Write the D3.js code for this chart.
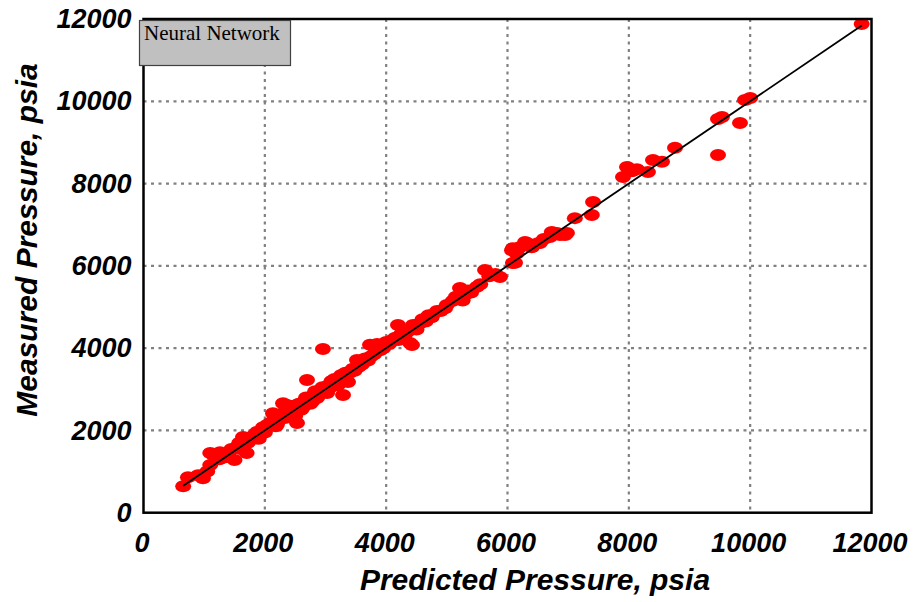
<!DOCTYPE html>
<html>
<head>
<meta charset="utf-8">
<script src="https://cdn.jsdelivr.net/npm/d3@7"></script>
<style>
  body { margin: 0; background: #fff; }
</style>
</head>
<body>
<div id="chart-area"></div>
<script>
// predicted vs measured pressure (psia)
const predicted = [654, 733, 900, 980, 1050, 1100, 1150, 1100, 1260, 1250, 1350, 1400, 1500, 1540, 1600, 1640, 1700, 1720, 1800, 1870,
  1900, 1970, 2000, 2036, 2085, 2135, 2200, 2250, 2300, 2332, 2365, 2400, 2464, 2500, 2530, 2530, 2600, 2650, 2695, 2695,
  2750, 2800, 2860, 2900, 2958, 2950, 3026, 3050, 3100, 3150, 3240, 3289, 3300, 3371, 3400, 3450, 3519, 3550, 3600, 3650,
  3734, 3750, 3800, 3850, 3900, 3950, 4000, 4050, 4100, 4195, 4200, 4300, 4393, 4426, 4442, 4500, 4550, 4600, 4650, 4700,
  4750, 4838, 4900, 4970, 5000, 5100, 5217, 5217, 5260, 5350, 5400, 5497, 5550, 5630, 5700, 5800, 5876, 6074, 6090, 6090,
  6124, 6150, 6290, 6321, 6400, 6500, 6535, 6600, 6730, 6815, 6865, 6950, 6980, 7110, 7390, 7410, 7904, 7970, 7986, 8050,
  8134, 8315, 8398, 8547, 8761, 9470, 9470, 9535, 9832, 9915, 10000, 11838,
  1450, 1580, 1760, 1830, 2150, 2180, 2280, 2350, 2420, 2480, 2560, 2620, 2680, 2720, 2780, 2830, 2880, 3000, 3080, 3150,
  3200, 3260, 3330, 3480, 3700, 4150, 4250, 4350, 4480, 5150, 5300, 6200, 6700];
const measured = [645, 860, 910, 840, 1000, 1160, 1400, 1450, 1470, 1300, 1350, 1450, 1280, 1600, 1550, 1840, 1450, 1700, 1850, 1960,
  1800, 2080, 1950, 2130, 2180, 2420, 2150, 2300, 2660, 2300, 2615, 2400, 2490, 2350, 2180, 2570, 2500, 2700, 2690, 3225,
  2650, 2850, 2790, 2950, 3980, 3050, 2910, 3100, 3200, 3150, 3300, 2860, 3250, 3175, 3400, 3500, 3710, 3550, 3600, 3750,
  4080, 3800, 3850, 4100, 3950, 4000, 4150, 4100, 4200, 4560, 4200, 4300, 4125, 4076, 4560, 4450, 4600, 4700, 4650, 4800,
  4750, 4900, 4900, 4970, 5050, 5150, 5244, 5460, 5160, 5400, 5350, 5490, 5550, 5900, 5750, 5800, 5730, 6380, 6430, 6070,
  6075, 6300, 6580, 6557, 6450, 6550, 6557, 6650, 6820, 6800, 6750, 6750, 6800, 7160, 7235, 7550, 8160, 8400, 8380, 8300,
  8350, 8280, 8570, 8530, 8870, 8695, 9570, 9620, 9470, 10030, 10080, 11878,
  1550, 1700, 1780, 1900, 2250, 2100, 2400, 2500, 2350, 2600, 2650, 2550, 2800, 2750, 2700, 2950, 2850, 3000, 3050, 3250,
  3100, 3350, 3400, 3450, 3700, 4250, 4350, 4400, 4550, 5250, 5300, 6450, 6700];
const fitLine = [650, 11840];
const xTicks = [0, 2000, 4000, 6000, 8000, 10000, 12000];
const yTicks = [0, 2000, 4000, 6000, 8000, 10000, 12000];
const legendLabel = 'Neural Network';

const svgWidth = 915, svgHeight = 602;
const plotL = 143.5, plotR = 871.5, plotT = 19, plotB = 512.7;

const svg = d3.select('#chart-area')
  .append('svg')
    .attr('width', svgWidth)
    .attr('height', svgHeight);

const x = d3.scaleLinear().domain([0, 12000]).range([plotL, plotR]);
const y = d3.scaleLinear().domain([0, 12000]).range([plotB, plotT]);

const tickFont = g => g.selectAll('text')
  .attr('font-family', 'Liberation Sans, Arial, sans-serif')
  .attr('font-size', 27)
  .attr('font-weight', 700)
  .attr('font-style', 'italic')
  .attr('fill', '#000');

// grid
const grid = svg.append('g');
grid.selectAll('.vg')
  .data(xTicks.slice(1, -1))
  .enter().append('line')
    .attr('x1', d => x(d)).attr('x2', d => x(d))
    .attr('y1', plotT).attr('y2', plotB);
grid.selectAll('.hg')
  .data(yTicks.slice(1, -1))
  .enter().append('line')
    .attr('x1', plotL).attr('x2', plotR)
    .attr('y1', d => y(d)).attr('y2', d => y(d));
grid.selectAll('line')
  .attr('stroke', '#808080')
  .attr('stroke-width', 2.2)
  .attr('stroke-dasharray', '3,4.5');

// tick labels
svg.append('g')
  .attr('transform', `translate(-2,${plotB})`)
  .call(d3.axisBottom(x).tickValues(xTicks).tickSize(0).tickPadding(20).tickFormat(d3.format('d')))
  .call(g => g.select('.domain').remove())
  .call(tickFont);

svg.append('g')
  .attr('transform', `translate(${plotL},0)`)
  .call(d3.axisLeft(y).tickValues(yTicks).tickSize(0).tickPadding(12).tickFormat(d3.format('d')))
  .call(g => g.select('.domain').remove())
  .call(tickFont);

// points
const pts = predicted.map((p, i) => ({p: p, m: measured[i]}));
svg.append('g')
  .selectAll('ellipse')
  .data(pts)
  .enter().append('ellipse')
    .attr('cx', d => x(d.p))
    .attr('cy', d => y(d.m))
    .attr('rx', 8)
    .attr('ry', 6)
    .attr('fill', '#ff0000');

// 45 degree line
svg.append('line')
  .attr('x1', x(fitLine[0])).attr('y1', y(fitLine[0]))
  .attr('x2', x(fitLine[1])).attr('y2', y(fitLine[1]))
  .attr('stroke', '#000')
  .attr('stroke-width', 1.8);

// frame
svg.append('rect')
  .attr('x', plotL).attr('y', plotT)
  .attr('width', plotR - plotL).attr('height', plotB - plotT)
  .attr('fill', 'none')
  .attr('stroke', '#000')
  .attr('stroke-width', 2.5);

// legend box
svg.append('rect')
  .attr('x', 139.5).attr('y', 20.5)
  .attr('width', 151).attr('height', 45)
  .attr('fill', '#c0c0c0')
  .attr('stroke', '#404040')
  .attr('stroke-width', 1.2);
svg.append('text')
  .text(legendLabel)
  .attr('x', 144)
  .attr('y', 40)
  .attr('font-family', 'Liberation Serif, Times New Roman, serif')
  .attr('font-size', 21)
  .attr('fill', '#000');

// axis titles
svg.append('text')
  .text('Predicted Pressure, psia')
  .attr('x', 535)
  .attr('y', 590)
  .attr('text-anchor', 'middle')
  .attr('font-family', 'Liberation Sans, Arial, sans-serif')
  .attr('font-size', 30)
  .attr('font-weight', 700)
  .attr('font-style', 'italic');

svg.append('text')
  .text('Measured Pressure, psia')
  .attr('transform', 'translate(37,240) rotate(-90)')
  .attr('text-anchor', 'middle')
  .attr('font-family', 'Liberation Sans, Arial, sans-serif')
  .attr('font-size', 30)
  .attr('font-weight', 700)
  .attr('font-style', 'italic');
</script>
</body>
</html>
